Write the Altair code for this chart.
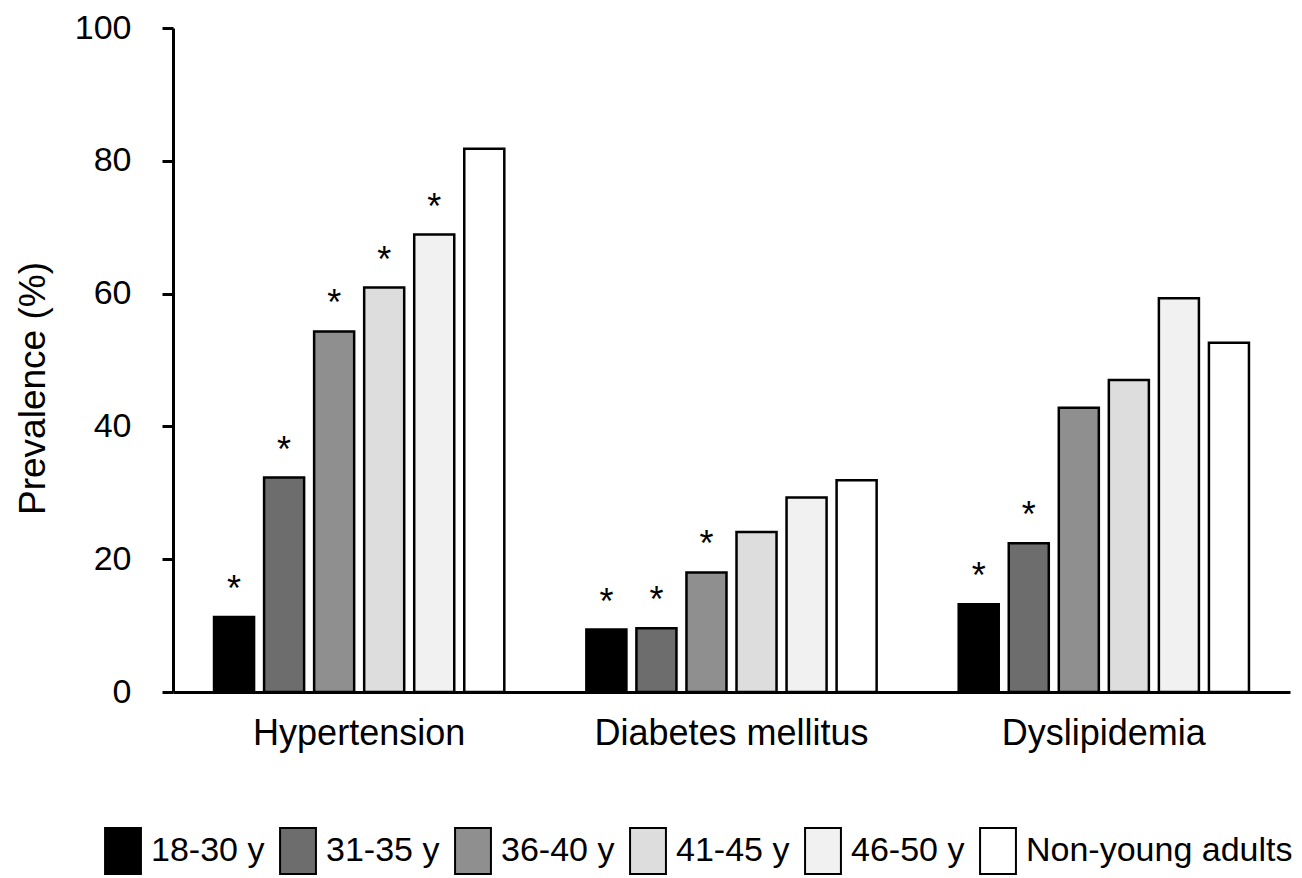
import altair as alt
import pandas as pd

categories = ["Hypertension", "Diabetes mellitus", "Dyslipidemia"]
groups = ["18-30 y", "31-35 y", "36-40 y", "41-45 y", "46-50 y", "Non-young adults"]
hypertension = [11.3, 32.3, 54.3, 60.9, 68.9, 81.8]
diabetes = [9.4, 9.6, 18.0, 24.1, 29.3, 31.9]
dyslipidemia = [13.2, 22.4, 42.8, 47.0, 59.3, 52.6]
sig_hypertension = ["*", "*", "*", "*", "*", ""]
sig_diabetes = ["*", "*", "*", "", "", ""]
sig_dyslipidemia = ["*", "*", "", "", "", ""]
colors = ["#000000", "#6d6d6d", "#8f8f8f", "#dddddd", "#f1f1f1", "#ffffff"]
y_ticks = [0, 20, 40, 60, 80, 100]

values = [hypertension, diabetes, dyslipidemia]
sigs = [sig_hypertension, sig_diabetes, sig_dyslipidemia]
rows = []
for ci, cat in enumerate(categories):
    for gi, g in enumerate(groups):
        rows.append({"condition": cat, "group": g, "value": values[ci][gi], "sig": sigs[ci][gi]})
df = pd.DataFrame(rows)

FONT = "Liberation Sans"
RECT = "M-0.78,-1L0.78,-1L0.78,1L-0.78,1Z"

x = alt.X(
    "condition:N",
    sort=categories,
    scale=alt.Scale(paddingInner=0, paddingOuter=0),
    axis=alt.Axis(
        title=None, labelAngle=0, ticks=False, tickSize=0, labelPadding=24,
        labelFontSize=36, labelFont=FONT, labelColor="black", labelLimit=0,
        domainColor="black", domainWidth=3,
    ),
)
xo = alt.XOffset("group:N", sort=groups, scale=alt.Scale(paddingInner=0.2, paddingOuter=0.82))
y = alt.Y(
    "value:Q",
    scale=alt.Scale(domain=[0, 100]),
    axis=alt.Axis(
        values=y_ticks, grid=False, tickSize=11, tickWidth=3, tickColor="black",
        domainColor="black", domainWidth=3, labelPadding=31, labelFontSize=34,
        labelFont=FONT, labelColor="black",
        title="Prevalence (%)", titleFont=FONT, titleFontSize=37,
        titleFontWeight="normal", titleColor="black", titleX=-129, titleY=360,
        titleAngle=-90, titleBaseline="alphabetic", titleAlign="center",
    ),
)

bars = alt.Chart(df).mark_bar(stroke="black", strokeWidth=2.5, opacity=1).encode(
    x=x,
    xOffset=xo,
    y=y,
    fill=alt.Fill(
        "group:N",
        sort=groups,
        scale=alt.Scale(domain=groups, range=colors),
        legend=alt.Legend(
            title=None, orient="none", legendX=-74, legendY=799,
            direction="horizontal", columns=6, symbolType=RECT, symbolSize=2116,
            symbolStrokeColor="black", symbolStrokeWidth=2, symbolOpacity=1,
            labelFont=FONT, labelFontSize=34, labelColor="black", labelLimit=0,
            labelOffset=4, columnPadding=9,
        ),
    ),
)

stars = alt.Chart(df).transform_filter(alt.datum.sig != "").mark_text(
    font=FONT, fontSize=36, dy=-16, baseline="alphabetic", color="black"
).encode(
    x=alt.X("condition:N", sort=categories),
    xOffset=alt.XOffset("group:N", sort=groups),
    y=alt.Y("value:Q"),
    text="sig:N",
)

chart = alt.layer(bars, stars).properties(
    width=1117,
    height=664,
    autosize=alt.AutoSizeParams(type="none"),
    padding={"left": 173, "top": 28, "right": 12, "bottom": 186},
    background="white",
).configure_view(stroke=None)

chart.save("out.html", embed_options={"renderer": "svg", "actions": False})
